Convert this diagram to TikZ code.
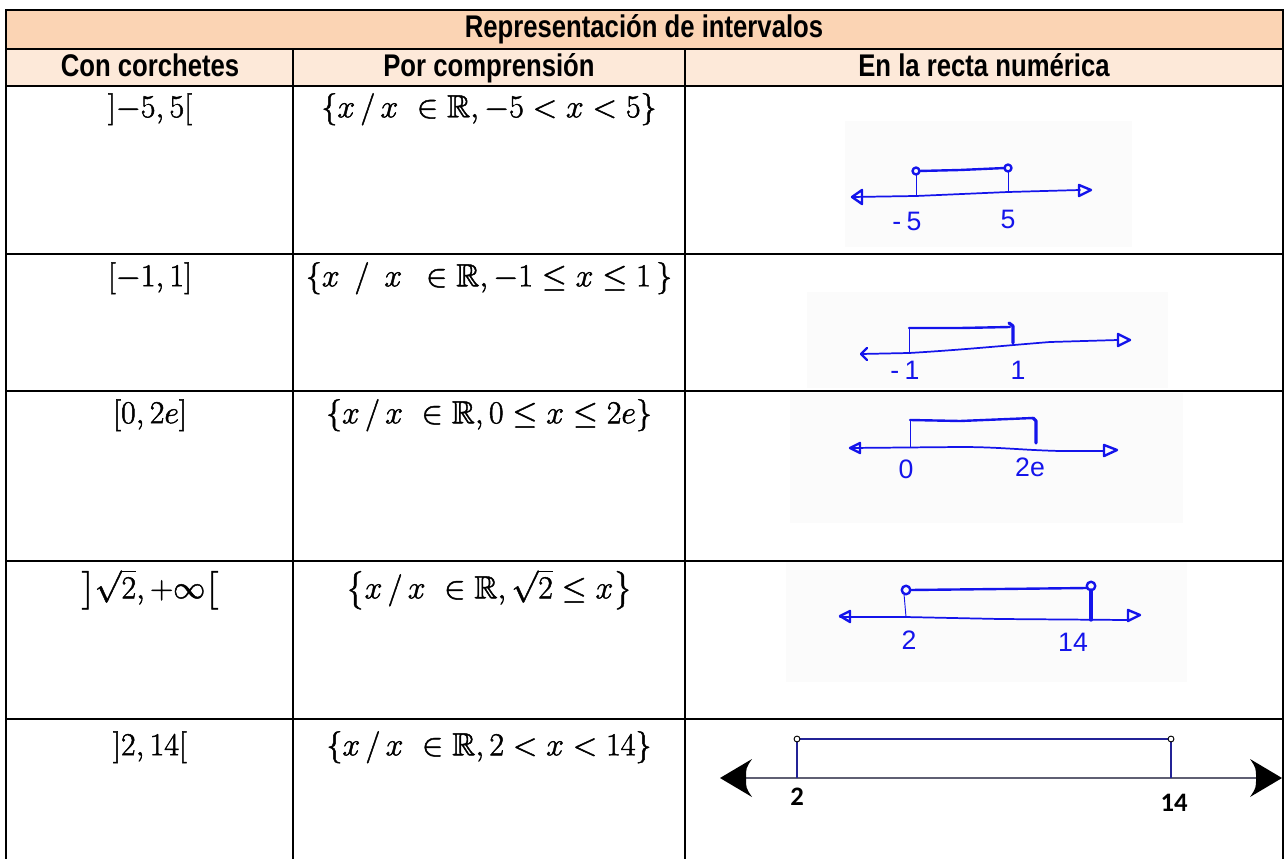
\documentclass[tikz,border=0pt]{standalone}
\usepackage{fix-cm}
\usepackage{amssymb}
\usepackage{fontspec}
\newfontfamily\hdrfont{Liberation Sans}[FakeStretch=0.82]
\newfontfamily\handfont{Liberation Sans}
\newfontfamily\calfont{Carlito}
\newcommand\heavytxt[1]{\special{pdf:literal direct 2 Tr 0.35 w}#1\special{pdf:literal direct 0 Tr}}
\definecolor{hdrA}{RGB}{251,212,180}
\definecolor{hdrB}{RGB}{253,233,217}
\definecolor{hblue}{RGB}{20,20,235}
\definecolor{navy}{RGB}{35,35,150}
\definecolor{axgray}{RGB}{95,95,115}
\definecolor{boxgray}{RGB}{251,251,251}
\tikzset{
  grid/.style={line width=2pt, black, line cap=rect},
  hand/.style={draw=hblue, line width=1.8pt, line cap=round, line join=round},
  handax/.style={draw=hblue, line width=1.3pt, line cap=round, line join=round},
  handthin/.style={draw=hblue, line width=0.7pt},
  handthick/.style={draw=hblue, line width=2.4pt, line cap=round, line join=round},
  hdr/.style={font=\hdrfont\bfseries\fontsize{23.5}{26}\selectfont, inner sep=0pt, anchor=base},
  mth/.style={font=\fontsize{24}{28}\selectfont, inner sep=0pt, anchor=north},
  lbl/.style={text=hblue, font=\handfont\fontsize{20}{22}\selectfont, inner sep=0pt},
  cal/.style={font=\calfont\bfseries\fontsize{20}{22}\selectfont, inner sep=0pt},
  navyline/.style={draw=navy, line width=1.3pt},
  opencirc/.style={draw=black, fill=white, line width=0.7pt},
  bigtip/.style={fill=black},
}
\begin{document}
\begin{tikzpicture}[x=0.75pt,y=-0.75pt]
\path[use as bounding box] (0,0) rectangle (1287,859);
% header fills
\fill[hdrA] (6,10) rectangle (1283,49);
\fill[hdrB] (6,49) rectangle (1283,86);
% grid
\foreach \yy in {10,49,86,254,391,561,719} \draw[grid] (6,\yy) -- (1283,\yy);
\draw[grid] (6,10) -- (6,859);
\draw[grid] (1283,10) -- (1283,859);
\draw[grid] (293,49) -- (293,859);
\draw[grid] (685,49) -- (685,859);
% headers
\node[hdr] (title) at (644,38) {Representación de intervalos};
\node[hdr] (h1) at (150,77) {Con corchetes};
\node[hdr] (h2) at (489,77) {Por comprensión};
\node[hdr] (h3) at (984,77) {En la recta numérica};
% column 1 and 2 texts
\node[mth] (c11) at (150,93) {\heavytxt{$\mathord{]}{-}5,5\mathord{[}$}};
\node[mth] (c12) at (489,93) {\heavytxt{$\{x\,/\,x\ \in\mathbb{R},-5<x<5\}$}};
\node[mth] (c21) at (150,262) {\heavytxt{$[-1,1]$}};
\node[mth] (c22) at (489,262) {\heavytxt{$\{x\ \,/\ \,x\ \,\in\mathbb{R},-1\leq x\leq 1\,\}$}};
\node[mth] (c31) at (150,399) {\heavytxt{$[0,2e]$}};
\node[mth] (c32) at (489,399) {\heavytxt{$\{x\,/\,x\ \in\mathbb{R},0\leq x\leq 2e\}$}};
\node[mth] (c41) at (150,569) {\heavytxt{$\left]\sqrt{2},+\infty\right[$}};
\node[mth] (c42) at (489,569) {\heavytxt{$\left\{x\,/\,x\ \in\mathbb{R},\sqrt{2}\leq x\right\}$}};
\node[mth] (c51) at (150,731) {\heavytxt{$\mathord{]}2,14\mathord{[}$}};
\node[mth] (c52) at (489,731) {\heavytxt{$\{x\,/\,x\ \in\mathbb{R},2<x<14\}$}};
% ---------- row 1 number line
\fill[boxgray] (845,121) rectangle (1132,247);
\draw[handax] (852,197) -- (916,196) -- (1008,192) -- (1080,190);
\draw[hand] (862,190) -- (852,197) -- (862,204) -- cycle;
\draw[hand] (1079,185) -- (1091,190) -- (1079,196) -- cycle;
\draw[handthin] (916,174) -- (916,196);
\draw[handthin] (1008,171) -- (1008,192);
\draw[hand] (919,171) -- (960,170) -- (1005,168);
\draw[hand] (916,171) circle (2.6pt);
\draw[hand] (1008,168) circle (2.6pt);
\node[lbl] (r1a) at (907,221) {-\kern4pt5};
\node[lbl] (r1b) at (1008,219) {5};
% ---------- row 2 number line
\fill[boxgray] (807,292) rectangle (1168,388);
\draw[handax] (861,354) -- (909,353) .. controls (960,350) and (1000,346) .. (1050,342) -- (1118,340);
\draw[hand] (867,348) -- (861,354) -- (867,360);
\draw[hand] (1118,334) -- (1130,340) -- (1118,346) -- cycle;
\draw[handthin] (909,329) -- (909,353);
\draw[hand] (909,328) -- (960,328) -- (1010,327);
\draw[handthick] (1009,323) -- (1013,326) -- (1013,343);
\node[lbl] (r2a) at (905,370) {-\kern4pt1};
\node[lbl] (r2b) at (1018,370) {1};
% ---------- row 3 number line
\fill[boxgray] (790,393) rectangle (1183,523);
\draw[handax] (850,448) -- (960,447) .. controls (1000,447) and (1020,450) .. (1060,451) -- (1104,451);
\draw[hand] (860,443) -- (850,448) -- (860,453) -- cycle;
\draw[hand] (1104,445) -- (1117,450) -- (1104,456) -- cycle;
\draw[handthin] (910,421) -- (910,447);
\draw[hand] (910,420) -- (960,421) -- (1033,418);
\draw[handthick] (1033,418) -- (1036,421) -- (1036,443);
\node[lbl] (r3a) at (906,469) {0};
\node[lbl] (r3b) at (1030,467) {2e};
% ---------- row 4 number line
\fill[boxgray] (786,562) rectangle (1187,682);
\draw[handax] (840,617) -- (905,617) -- (1000,619) -- (1128,620);
\draw[hand] (850,611) -- (840,616) -- (850,622) -- cycle;
\draw[hand] (1128,610) -- (1140,615) -- (1128,621) -- cycle;
\draw[handthin] (904,594) -- (906,617);
\draw[hand] (910,590) -- (1000,589) -- (1087,588);
\draw[handthick] (1091,590) -- (1091,620);
\draw[hand] (906,590) circle (3.2pt);
\draw[hand] (1091,586) circle (3.2pt);
\node[lbl] (r4a) at (909,640) {2};
\node[lbl] (r4b) at (1073,642) {14};
% ---------- row 5 number line
\draw[line width=2pt, axgray] (740,778) -- (1262,778);
\fill[bigtip] (720,778) -- (752,759) .. controls (746,768) .. (746,778) .. controls (746,788) .. (752,797) -- cycle;
\fill[bigtip] (1282,778) -- (1250,759) .. controls (1256,768) .. (1256,778) .. controls (1256,788) .. (1250,797) -- cycle;
\draw[navyline] (797,739) -- (797,778);
\draw[navyline] (1171,739) -- (1171,778);
\draw[navyline] (797,739) -- (1171,739);
\draw[opencirc] (797,739) circle (2.2pt);
\draw[opencirc] (1171,739) circle (2.2pt);
\node[cal] (r5a) at (797,797) {2};
\node[cal] (r5b) at (1174,803) {14};
\end{tikzpicture}
\end{document}
